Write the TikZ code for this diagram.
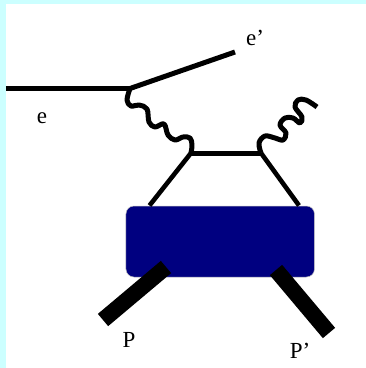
\documentclass[tikz,border=0pt]{standalone}
\usepackage{fontspec}
\setmainfont{Liberation Serif}
\usepackage{xcolor}
\usetikzlibrary{positioning,calc}
\definecolor{paper}{HTML}{CCFFFF}
\definecolor{blob}{HTML}{000080}
\tikzset{
  lepton/.style  ={draw=black, line width=5pt},
  photon/.style  ={draw=black, line width=5pt, line join=round},
  quark/.style   ={draw=black, line width=4.6pt},
  hadron/.style  ={draw=black, line width=16pt},
  lbl/.style     ={font=\fontsize{23}{25}\selectfont, inner sep=0pt},
  hadbox/.style  ={rounded corners=8pt, draw=black!25, fill=blob, line width=0.5pt,
                   minimum width=188.5pt, minimum height=71pt, inner sep=0pt},
}
\begin{document}
\begin{tikzpicture}[x=1pt,y=-1pt]
% page
\fill[paper] (0,0) rectangle (366,368);
\fill[white] (6,4) rectangle (366,368);
\useasboundingbox (0,0) rectangle (366,368);
% vertices
\coordinate (ein) at (6,88.5);
\coordinate (evx) at (130,88.5);
\coordinate (eout) at (235,52);
\coordinate (ql) at (191,153);
\coordinate (qr) at (261,153);
\coordinate (gam) at (317,107);
% hadronic blob
\node[hadbox] (blob) at (220.2,241.5) {};
\coordinate (legl) at (149.5,205.5);
\coordinate (legr) at (299,205.5);
\coordinate (pin) at (103,320);
\coordinate (pinb) at (166,267);
\coordinate (pout) at (329,333);
\coordinate (poutb) at (276,270);
% electron
\draw[lepton] (ein) -- (evx);
\draw[lepton] (evx) -- (eout);
% quark box
\draw[lepton] (ql) -- (qr);
\draw[quark] (ql) -- (legl);
\draw[quark] (qr) -- (legr);
% photons
\draw[photon] plot[smooth,tension=0.6] coordinates {(evx) (127,100) (131,106) (139,105) (147,109) (149,122) (155,127) (164,124) (168,135) (175,140) (183,137) (190,138) (192,145) (ql)};
\draw[photon] plot[smooth,tension=0.6] coordinates {(qr) (259,143) (265,136) (275,138) (283,140) (286,133) (280,125) (285,118) (293,118) (300,123) (302,117) (295,107) (298,100) (306,100) (gam)};
% protons
\draw[hadron] (pin) -- (pinb);
\draw[hadron] (pout) -- (poutb);
% labels
\node[lbl] (le) at (42,118) {e};
\node[lbl] (leo) at (255,38) {e’};
\node[lbl] (lp) at (129,340) {P};
\node[lbl] (lpo) at (300,351) {P’};
\end{tikzpicture}
\end{document}
